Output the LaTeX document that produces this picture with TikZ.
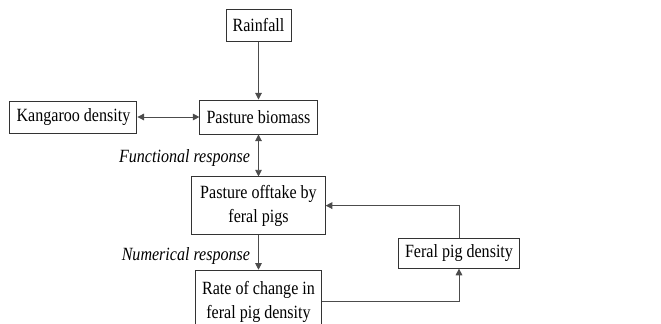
\documentclass[tikz,border=0pt]{standalone}
\usepackage{fontspec}
\setmainfont[FakeStretch=0.86]{Liberation Serif}
\usepackage{tikz}
\usetikzlibrary{positioning}
\usetikzlibrary{arrows.meta}
\usetikzlibrary{calc}

\tikzset{
  box/.style={draw=black!80, line width=0.7pt, inner xsep=5pt, minimum height=24pt, align=center},
  link/.style={draw=black!70, line width=0.7pt},
  tip/.style={-{Triangle[length=5pt,width=5pt]}},
  tips/.style={{Triangle[length=5pt,width=5pt]}-{Triangle[length=5pt,width=5pt]}}
}

\begin{document}
\begin{tikzpicture}[x=0.75pt, y=-0.75pt, font=\fontsize{14}{18}\selectfont]
\useasboundingbox (0,0) rectangle (661,324);
\clip (0,0) rectangle (661,324);

\node[box, minimum height=25.5pt] (pasture) at (258.5,117) {Pasture biomass};
\node[box, above=43.5pt of pasture] (rain) {Rainfall};
\node[box, left=46.5pt of pasture] (kang) {Kangaroo density};
\node[box, below=31.5pt of pasture, minimum height=43pt, minimum width=100pt] (offtake) {Pasture offtake by\\feral pigs};
\node[box, below=26.25pt of offtake, minimum height=47pt] (rate) {Rate of change in\\feral pig density};
\node[box, minimum height=22pt] (pig) at (459,253.5) {Feral pig density};

\draw[link, tip] (rain) -- (pasture);
\draw[link, tips] (kang) -- (pasture);
\draw[link, tips] (pasture) -- node[left, inner xsep=6pt, yshift=-2pt] {\itshape Functional response} (offtake);
\draw[link, tip] (offtake) -- node[left, inner xsep=6pt, yshift=-3pt] {\itshape Numerical response} (rate);
\draw[link, tip] (rate.east) -| (pig.south);
\draw[link, tip] (pig.north) |- (offtake.east);
\end{tikzpicture}
\end{document}
